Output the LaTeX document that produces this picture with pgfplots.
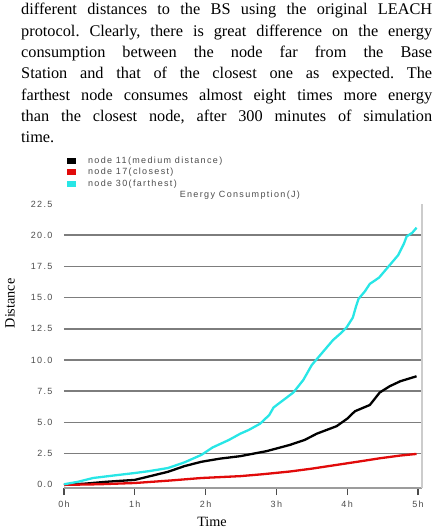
\documentclass[border=0pt]{standalone}
\usepackage{pgfplots}
\pgfplotsset{compat=1.18}
\usepackage{fontspec}
\setmainfont{Liberation Serif}
\newfontfamily\chartfont[LetterSpace=15]{Liberation Sans}

\definecolor{farcol}{RGB}{40,230,230}
\definecolor{closecol}{RGB}{225,10,10}
\definecolor{gridcol}{RGB}{125,125,125}
\definecolor{labcol}{RGB}{75,75,75}

\begin{document}
\frenchspacing
\begin{tikzpicture}
\begin{axis}[
  scale only axis, width=357.5pt, height=284pt,
  xmin=0, xmax=5.05, ymin=-0.25, ymax=22.5,
  axis line style={draw=none},
  xtick={0,1,2,3,4,5},
  xticklabels={0h,1h,2h,3h,4h,5h},
  ytick={2.5,5,...,20},
  extra y ticks={0,22.5},
  extra y tick style={grid=none},
  ymajorgrids,
  grid style={gridcol, line width=1.6pt},
  ytick style={draw=none},
  xtick style={draw=labcol, line width=1.2pt},
  xtick pos=bottom, tick align=outside,
  major tick length=7pt,
  yticklabel style={/pgf/number format/fixed,/pgf/number format/fixed zerofill,/pgf/number format/precision=1,
    font=\chartfont\fontsize{9}{10}\selectfont, text=labcol, xshift=-1pt},
  xticklabel style={font=\chartfont\fontsize{9}{10}\selectfont, text=labcol, yshift=-2pt},
  /pgf/number format/assume math mode=true,
  clip=false,
  legend style={at={(axis description cs:0.008,1.172)}, anchor=north west,
    draw=none, fill=none, inner sep=0pt,
    font=\chartfont\fontsize{9}{9}\selectfont, text=labcol,
    row sep=0pt, nodes={inner ysep=1.7pt}},
  legend cell align=left,
  legend image code/.code={\fill[#1,draw=none] (0pt,-3pt) rectangle (9pt,3pt);
    \path[draw=none,fill=none] (0pt,0pt) -- (19pt,0pt);},
]
\coordinate (O) at (rel axis cs:0,0);
% axis frame: bottom and right only
\draw[labcol!55, line width=1.2pt] (rel axis cs:0,0) -- (rel axis cs:1,0);
\draw[black!20, line width=2pt] (rel axis cs:1,0) -- (rel axis cs:1,1);

\addplot[black, line width=2.3pt] coordinates {
(0,0.0) (0.3,0.1) (0.6,0.25) (1.0,0.4) (1.47,1.05) (1.7,1.5) (1.94,1.85)
(2.2,2.1) (2.49,2.3) (2.86,2.7) (3.19,3.2) (3.4,3.6) (3.57,4.1) (3.85,4.7)
(4.0,5.3) (4.11,5.9) (4.32,6.4) (4.46,7.4) (4.6,7.9) (4.75,8.3) (4.98,8.7)};
\addlegendentry{node 11(medium distance)}

\addplot[closecol, line width=2.3pt] coordinates {
(0,0.0) (0.5,0.05) (1.0,0.15) (1.5,0.35) (1.94,0.55) (2.49,0.7) (2.8,0.85)
(3.19,1.07) (3.5,1.3) (3.85,1.6) (4.2,1.9) (4.46,2.13) (4.75,2.35) (4.98,2.48)};
\addlegendentry{node 17(closest)}

\addplot[farcol, line width=2.3pt] coordinates {
(0,0.05) (0.2,0.25) (0.41,0.55) (0.7,0.75) (1.0,0.95) (1.2,1.1) (1.47,1.35)
(1.7,1.8) (1.94,2.4) (2.1,3.0) (2.33,3.6) (2.49,4.1) (2.61,4.4) (2.77,4.9)
(2.9,5.6) (2.96,6.2) (3.1,6.8) (3.24,7.4) (3.38,8.4) (3.5,9.6) (3.65,10.6)
(3.8,11.6) (3.9,12.1) (3.99,12.6) (4.08,13.4) (4.12,14.2) (4.16,14.9)
(4.25,15.5) (4.32,16.1) (4.45,16.6) (4.6,17.6) (4.72,18.4) (4.8,19.3)
(4.84,19.9) (4.92,20.2) (4.98,20.6)};
\addlegendentry{node 30(farthest)}

\node[font=\chartfont\fontsize{9}{10}\selectfont, text=labcol] at (axis description cs:0.492,1.032) {Energy Consumption(J)};
\node[rotate=90, font=\fontsize{14.2}{15}\selectfont] at (axis description cs:-0.151,0.65) {Distance};
\node[font=\fontsize{14.2}{15}\selectfont] at (axis description cs:0.414,-0.12) {Time};
\end{axis}

% surrounding paragraph
\node[anchor=base west, inner sep=0pt] at ([shift={(-43pt,473pt)}]O) {%
  \parbox[t]{411pt}{\fontsize{16.3pt}{21.3pt}\selectfont
  different distances to the BS using the original LEACH\linebreak
  protocol. Clearly, there is great difference on the energy\linebreak
  consumption between the node far from the Base\linebreak
  Station and that of the closest one as expected. The\linebreak
  farthest node consumes almost eight times more energy\linebreak
  than the closest node, after 300 minutes of simulation\linebreak
  time.}};

\pgfresetboundingbox
\path[use as bounding box] ([shift={(-64pt,-42pt)}]O) rectangle ++(434pt,530pt);
\end{tikzpicture}
\end{document}
